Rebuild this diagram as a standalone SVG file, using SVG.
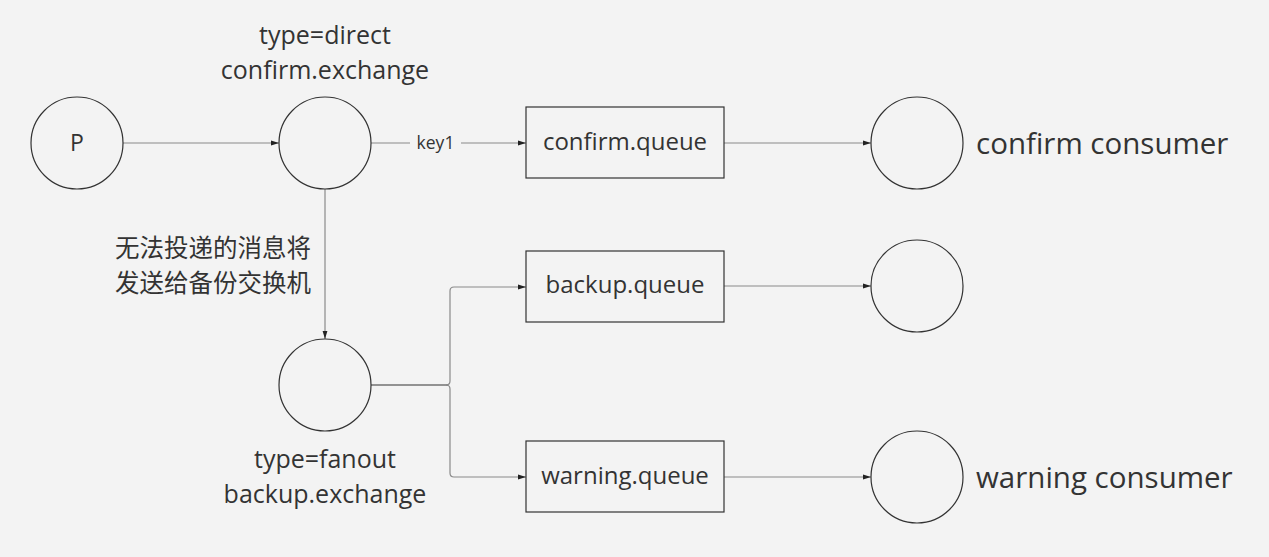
<svg xmlns="http://www.w3.org/2000/svg" width="1269" height="557" viewBox="0 0 1269 557">
<defs>
<style>
.n{fill:none;stroke:#333;stroke-width:1.2}
.c{fill:none;stroke:#8a8a8a;stroke-width:1.2}
.t{font-family:"Open Sans","Noto Sans","Noto Sans CJK SC",sans-serif;fill:#333}
</style>
<marker id="a" viewBox="0 0 10 10" refX="10" refY="5" markerWidth="8" markerHeight="8" markerUnits="userSpaceOnUse" orient="auto">
<path d="M0,2 L10,5 L0,8 Z" fill="#222"/>
</marker>
</defs>
<rect width="1269" height="557" fill="#f3f3f3"/>
<g id="connectors">
<line class="c" x1="123" y1="143" x2="279" y2="143" marker-end="url(#a)"/>
<line class="c" x1="371" y1="143" x2="410" y2="143"/>
<line class="c" x1="461" y1="143" x2="526" y2="143" marker-end="url(#a)"/>
<text class="t" x="435.5" y="149" font-size="17.5" text-anchor="middle">key1</text>
<line class="c" x1="724" y1="143" x2="871" y2="143" marker-end="url(#a)"/>
<line class="c" x1="724" y1="286" x2="871" y2="286" marker-end="url(#a)"/>
<line class="c" x1="724" y1="477" x2="871" y2="477" marker-end="url(#a)"/>
<line class="c" x1="325" y1="189" x2="325" y2="339" marker-end="url(#a)"/>
<path class="n" d="M371,385 H448"/>
<path class="c" d="M446,385 Q450,385 450,381 V291 Q450,287 454,287 H526" marker-end="url(#a)"/>
<path class="c" d="M446,385 Q450,385 450,389 V473 Q450,477 454,477 H526" marker-end="url(#a)"/>
</g>
<g id="producer">
<circle class="n" cx="77" cy="143" r="46"/>
<text class="t" x="77" y="151" font-size="23" text-anchor="middle">P</text>
</g>
<g id="confirm-exchange">
<circle class="n" cx="325" cy="143" r="46"/>
<text class="t" x="325" y="44" font-size="25" text-anchor="middle">type=direct</text>
<text class="t" x="325" y="79" font-size="25" text-anchor="middle">confirm.exchange</text>
</g>
<g id="note">
<text class="t" x="115" y="257" font-size="24.5">无法投递的消息将</text>
<text class="t" x="115" y="292" font-size="24.5">发送给备份交换机</text>
</g>
<g id="backup-exchange">
<circle class="n" cx="325" cy="385" r="46"/>
<text class="t" x="325" y="468" font-size="25" text-anchor="middle">type=fanout</text>
<text class="t" x="325" y="503" font-size="25" text-anchor="middle">backup.exchange</text>
</g>
<g id="confirm-queue">
<rect class="n" x="526" y="107" width="198" height="71"/>
<text class="t" x="625" y="150" font-size="24" text-anchor="middle">confirm.queue</text>
</g>
<g id="backup-queue">
<rect class="n" x="526" y="251" width="198" height="71"/>
<text class="t" x="625" y="293" font-size="24" text-anchor="middle">backup.queue</text>
</g>
<g id="warning-queue">
<rect class="n" x="526" y="441" width="198" height="71"/>
<text class="t" x="625" y="484" font-size="24" text-anchor="middle">warning.queue</text>
</g>
<g id="confirm-consumer">
<circle class="n" cx="917" cy="143" r="46"/>
<text class="t" x="976" y="154" font-size="29.5">confirm consumer</text>
</g>
<g id="backup-consumer">
<circle class="n" cx="917" cy="286" r="46"/>
</g>
<g id="warning-consumer">
<circle class="n" cx="917" cy="477" r="46"/>
<text class="t" x="976" y="488" font-size="29.5">warning consumer</text>
</g>
</svg>
